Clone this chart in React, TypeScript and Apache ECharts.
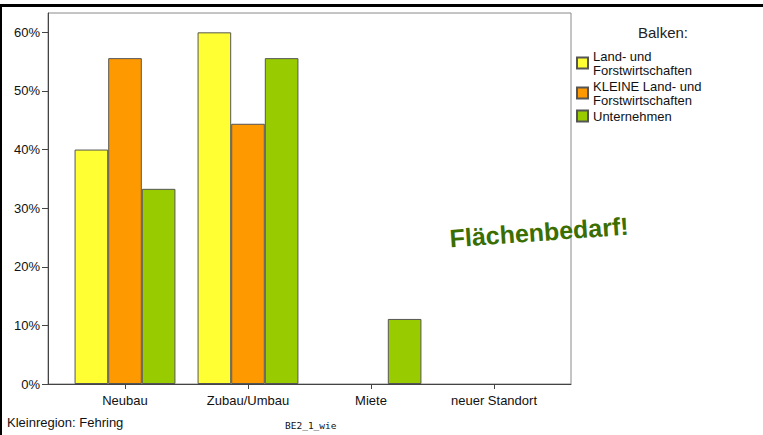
import React, { useEffect, useRef } from "react";
import * as echarts from "echarts";

const categories = ["Neubau", "Zubau/Umbau", "Miete", "neuer Standort"];
const seriesNames = [
  "Land- und Forstwirtschaften",
  "KLEINE Land- und Forstwirtschaften",
  "Unternehmen",
];
const legendLabels = [
  "Land- und\nForstwirtschaften",
  "KLEINE Land- und\nForstwirtschaften",
  "Unternehmen",
];
const landForst = [40, 60, 0, 0];
const kleineLandForst = [55.6, 44.4, 0, 0];
const unternehmen = [33.3, 55.6, 11.1, 0];
const yTicks = [0, 10, 20, 30, 40, 50, 60];
const yMax = 63.3;
const colors = ["#FFFF33", "#FF9900", "#99CC00"];

const FONT = "'Liberation Sans', Arial, sans-serif";

export default function App() {
  const ref = useRef<HTMLDivElement>(null);
  useEffect(() => {
    if (!ref.current) return;
    const chart = echarts.init(ref.current, undefined, { renderer: "svg" });
    const seriesData = [landForst, kleineLandForst, unternehmen];
    const PL = 48, PR = 571, PT = 13, PB = 384;
    const CL = 63.5, CR = 555.5;
    chart.setOption({
      animation: false,
      backgroundColor: "#ffffff",
      textStyle: { fontFamily: FONT },
      title: {
        text: "Balken:",
        left: 633,
        top: 20,
        textStyle: { fontSize: 15, fontWeight: "normal", color: "#222", fontFamily: FONT },
      },
      legend: {
        orient: "vertical",
        left: 571,
        top: 44,
        itemWidth: 11,
        itemHeight: 11,
        itemGap: 2,
        icon: "rect",
        data: seriesNames,
        formatter: (name: string) => legendLabels[seriesNames.indexOf(name)],
        textStyle: { fontSize: 13, lineHeight: 14, color: "#111", fontFamily: FONT },
      },
      grid: [
        { left: PL, top: PT, width: PR - PL, height: PB - PT, show: true, borderColor: "#8a8a8a", borderWidth: 1, backgroundColor: "transparent" },
        { left: CL, top: PT, width: CR - CL, height: PB - PT },
      ],
      xAxis: [
        {
          type: "category",
          gridIndex: 0,
          data: categories,
          axisLine: { show: true, lineStyle: { color: "#444", width: 1 } },
          axisTick: { show: false },
          axisLabel: { show: false },
          splitLine: { show: false },
        },
        {
          type: "category",
          gridIndex: 1,
          data: categories,
          axisLine: { show: false },
          axisTick: { show: true, alignWithLabel: true, length: 5, lineStyle: { color: "#444" } },
          axisLabel: { show: true, fontSize: 13, color: "#111", margin: 10, fontFamily: FONT },
          splitLine: { show: false },
        },
      ],
      yAxis: [
        {
          type: "value",
          gridIndex: 0,
          min: 0,
          max: yMax,
          axisLine: { show: true, lineStyle: { color: "#444", width: 1 } },
          axisTick: { show: true, length: 6, customValues: yTicks, lineStyle: { color: "#444" } },
          axisLabel: {
            show: true,
            customValues: yTicks,
            formatter: (v: number) => `${v}%`,
            fontSize: 13,
            color: "#111",
            margin: 8,
            fontFamily: FONT,
          },
          splitLine: { show: false },
        },
        {
          type: "value",
          gridIndex: 1,
          min: 0,
          max: yMax,
          show: false,
          splitLine: { show: false },
        },
      ],
      series: seriesNames.map((name, i) => ({
        name,
        type: "bar",
        xAxisIndex: 1,
        yAxisIndex: 1,
        data: seriesData[i].map((v) => (v === 0 ? null : v)),
        barGap: "0%",
        barCategoryGap: "18%",
        itemStyle: { color: colors[i], borderColor: "#555", borderWidth: 1 },
      })),
      graphic: [
        { type: "rect", shape: { x: 0, y: 4, width: 763, height: 3 }, style: { fill: "#000" } },
        { type: "rect", shape: { x: 0, y: 4, width: 2, height: 431 }, style: { fill: "#000" } },
        {
          type: "text",
          x: 539,
          y: 232,
          rotation: (4 * Math.PI) / 180,
          style: {
            text: "Flächenbedarf!",
            fill: "#3a6e00",
            font: `bold 25px ${FONT}`,
            align: "center",
            verticalAlign: "middle",
          },
        },
        {
          type: "text",
          x: 7,
          y: 422,
          style: {
            text: "Kleinregion: Fehring",
            fill: "#111",
            font: `13px ${FONT}`,
            verticalAlign: "middle",
          },
        },
        {
          type: "text",
          x: 285,
          y: 425,
          style: {
            text: "BE2_1_wie",
            fill: "#111",
            font: `9.5px 'DejaVu Sans Mono', monospace`,
            verticalAlign: "middle",
          },
        },
      ],
    });
    return () => chart.dispose();
  }, []);
  return (
    <div
      ref={ref}
      style={{ position: "absolute", left: 0, top: 0, width: 763, height: 435 }}
    />
  );
}
